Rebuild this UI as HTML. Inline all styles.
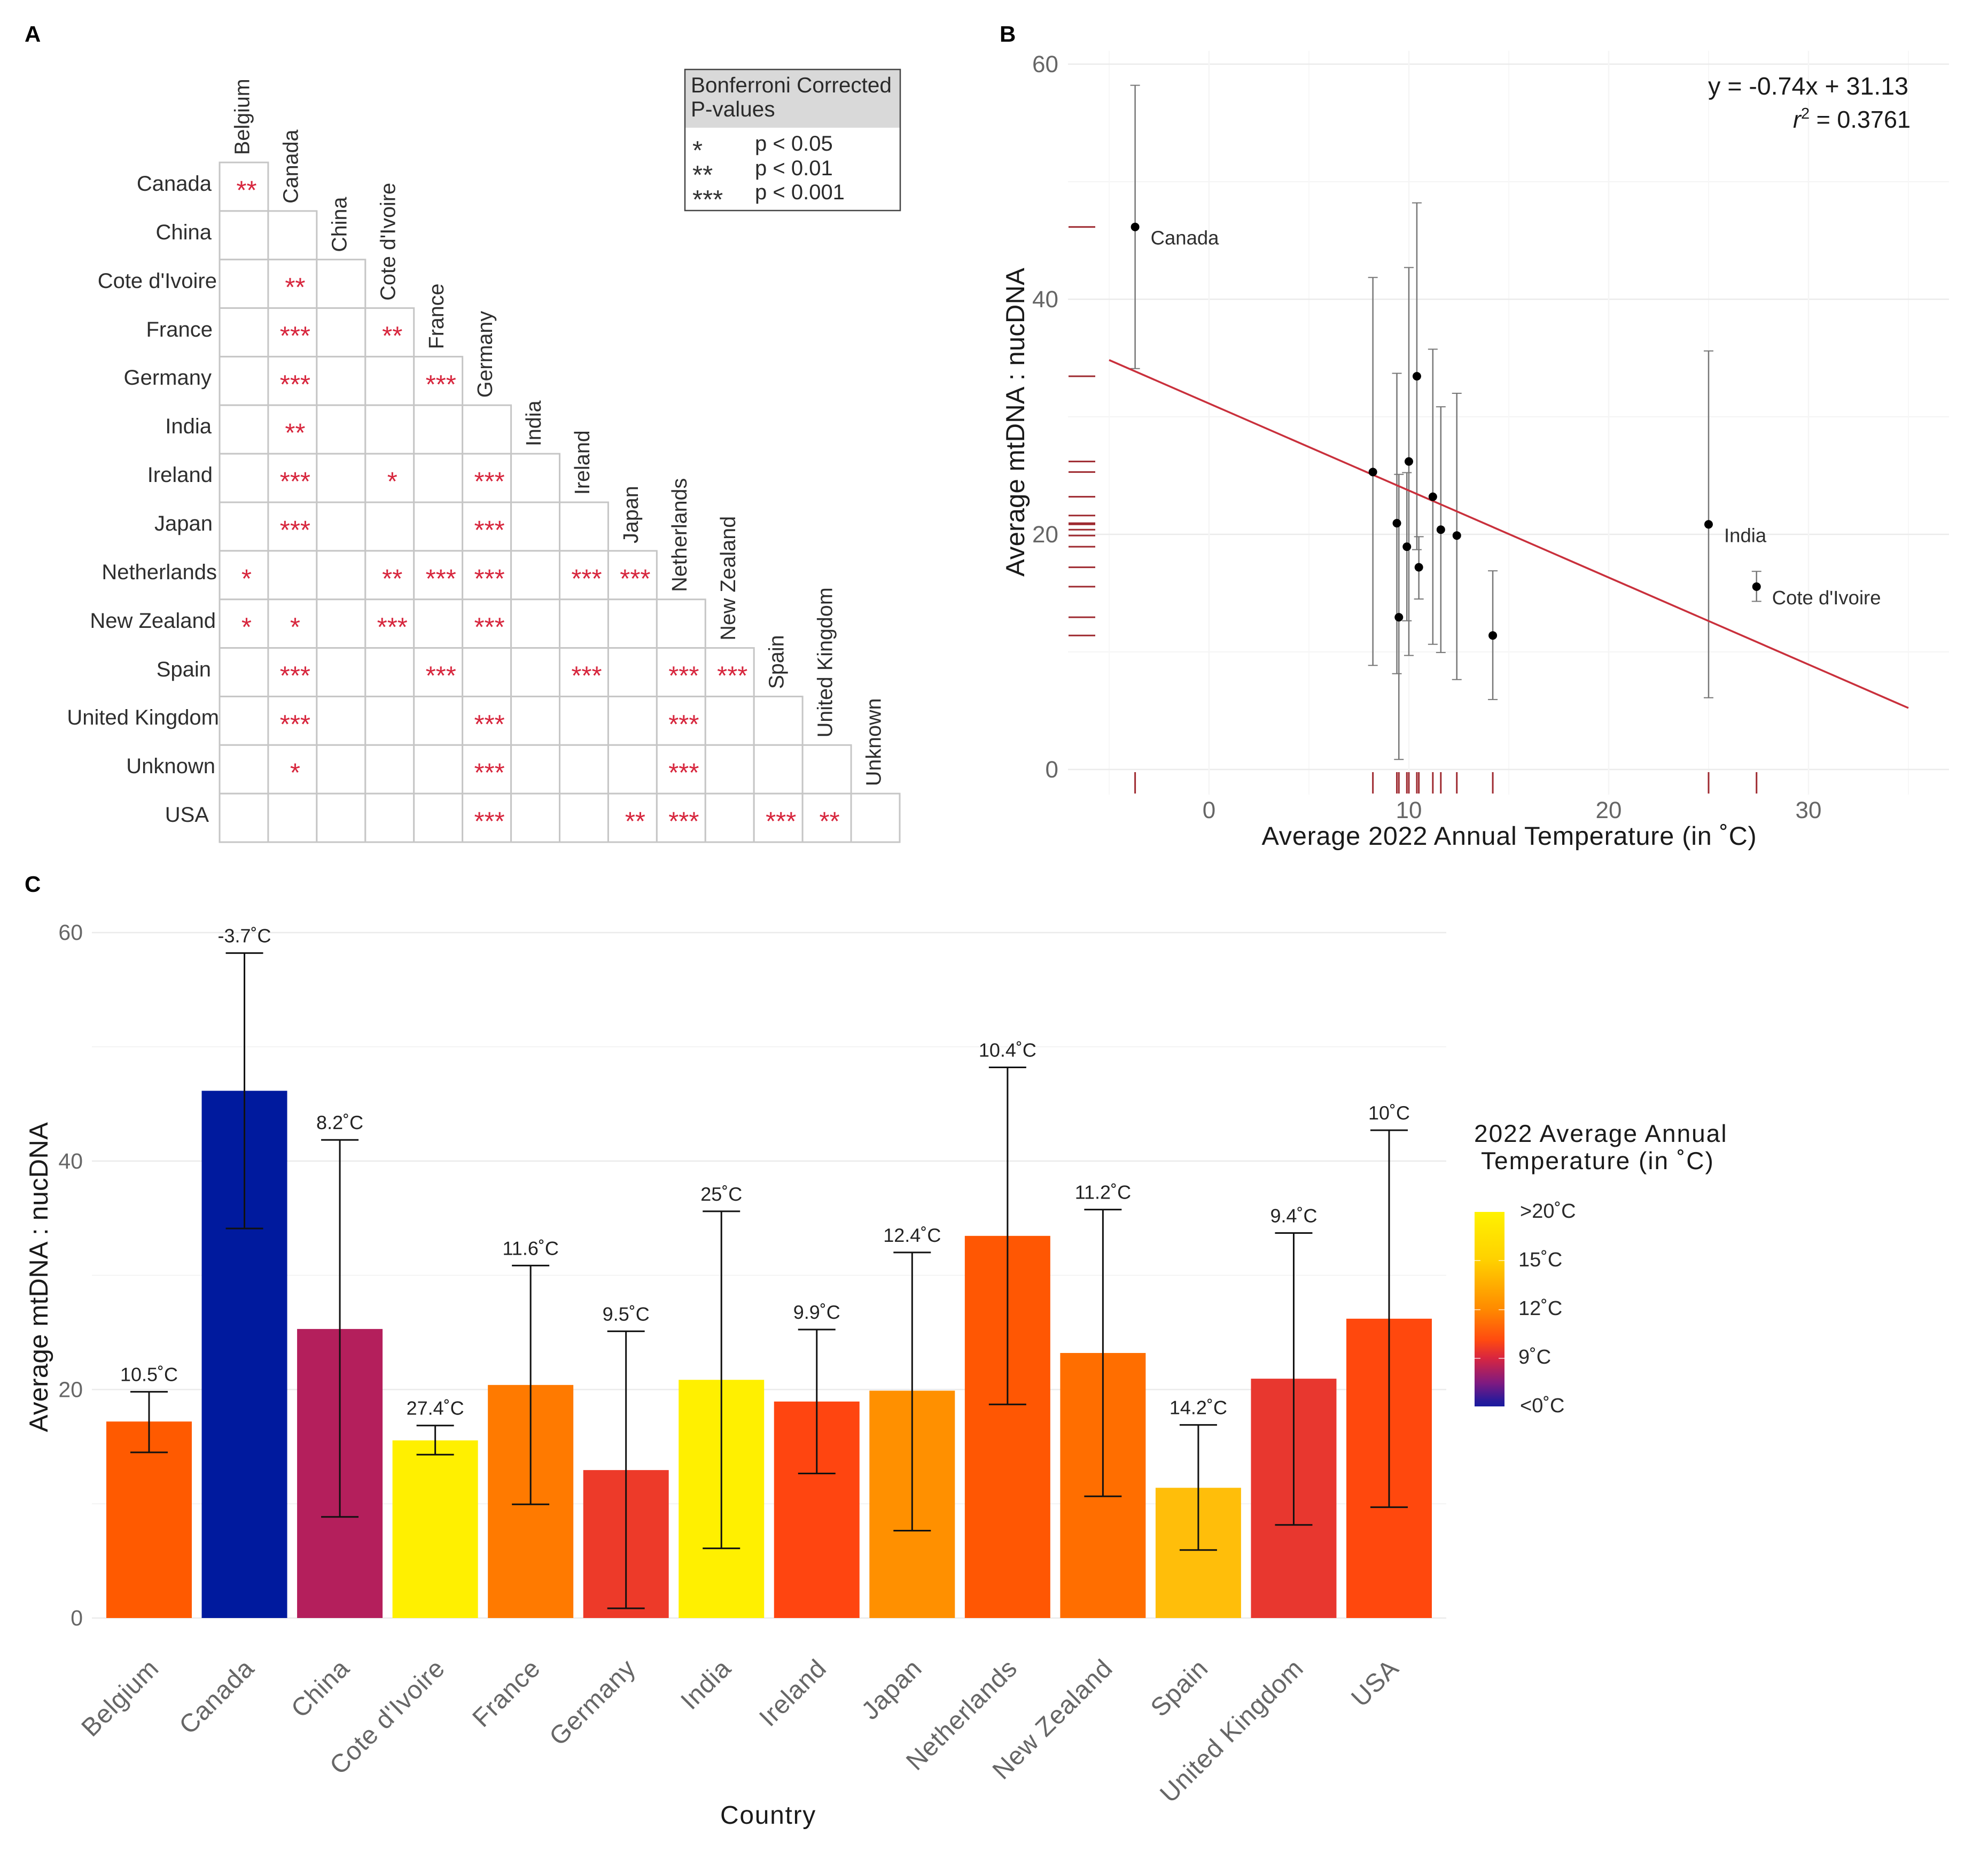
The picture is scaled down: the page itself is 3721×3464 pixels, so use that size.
<!DOCTYPE html>
<html lang="en">
<head>
<meta charset="utf-8">
<title>mtDNA : nucDNA by country and temperature</title>
<style>
html,body{margin:0;padding:0;background:#fff;width:3721px;height:3464px;overflow:hidden}
svg{display:block}
text{font-family:"Liberation Sans",sans-serif;text-rendering:geometricPrecision}
</style>
</head>
<body>
<svg id="fig" xmlns="http://www.w3.org/2000/svg" width="3721" height="3464" viewBox="0 0 3721 3464">
  <defs>
    <linearGradient id="tempGrad" x1="0" y1="0" x2="0" y2="1">
      <stop offset="0" stop-color="#fff200"/>
      <stop offset="0.25" stop-color="#ffd000"/>
      <stop offset="0.5" stop-color="#ff8a00"/>
      <stop offset="0.66" stop-color="#ff4a10"/>
      <stop offset="0.75" stop-color="#d9263f"/>
      <stop offset="0.88" stop-color="#7f1a80"/>
      <stop offset="0.97" stop-color="#2a1a9a"/>
      <stop offset="1" stop-color="#1a1a9e"/>
    </linearGradient>
  </defs>
  <rect width="3721" height="3464" fill="#fff"/>

  <text x="46" y="78" font-size="42" font-weight="700" fill="#000">A</text>
  <text x="1871" y="78" font-size="42" font-weight="700" fill="#000">B</text>
  <text x="46" y="1669" font-size="42" font-weight="700" fill="#000">C</text>

  <g id="panelA"></g>
  <g font-size="40" fill="#2e2e2e" text-anchor="end">
    <text x="396" y="357">Canada</text>
    <text x="396" y="448">China</text>
    <text x="406" y="539">Cote d'Ivoire</text>
    <text x="398" y="630">France</text>
    <text x="396" y="720">Germany</text>
    <text x="396" y="811">India</text>
    <text x="398" y="902">Ireland</text>
    <text x="398" y="993">Japan</text>
    <text x="406" y="1084">Netherlands</text>
    <text x="404" y="1175">New Zealand</text>
    <text x="395" y="1266">Spain</text>
    <text x="410" y="1356">United Kingdom</text>
    <text x="403" y="1447">Unknown</text>
    <text x="391" y="1538">USA</text>
  </g>

  <g>
    <rect x="1282" y="130" width="403" height="264" fill="#fff"/>
    <rect x="1282" y="130" width="403" height="109" fill="#d9d9d9"/>
    <rect x="1282" y="130" width="403" height="264" fill="none" stroke="#444" stroke-width="2.5"/>
    <text x="1293" y="173" font-size="40.5" fill="#2a2a2a">Bonferroni Corrected</text>
    <text x="1293" y="218" font-size="40.5" fill="#2a2a2a">P-values</text>
    <text x="1296" y="298" font-size="49" fill="#333">*</text>
    <text x="1296" y="344" font-size="49" fill="#333">**</text>
    <text x="1296" y="390" font-size="49" fill="#333">***</text>
    <text x="1413" y="282" font-size="40" fill="#2a2a2a">p &lt; 0.05</text>
    <text x="1413" y="328" font-size="40" fill="#2a2a2a">p &lt; 0.01</text>
    <text x="1413" y="373" font-size="40" fill="#2a2a2a">p &lt; 0.001</text>
  </g>

  <g id="panelB"></g>
  <text x="3572" y="177" font-size="46.5" text-anchor="end" fill="#1a1a1a">y = -0.74x + 31.13</text>
  <text x="3576" y="239" font-size="45" text-anchor="end" fill="#1a1a1a"><tspan font-style="italic">r</tspan><tspan dy="-17" font-size="29">2</tspan><tspan dy="17"> = 0.3761</tspan></text>
  <text transform="translate(1917 790) rotate(-90)" text-anchor="middle" font-size="49" letter-spacing="0.2" fill="#1a1a1a">Average mtDNA : nucDNA</text>
  <text x="2825" y="1581" text-anchor="middle" font-size="48.6" letter-spacing="0.75" fill="#1a1a1a">Average 2022 Annual Temperature (in ˚C)</text>

  <g id="panelC"></g>
  <text transform="translate(89 2390) rotate(-90)" text-anchor="middle" font-size="49" letter-spacing="0.3" fill="#1a1a1a">Average mtDNA : nucDNA</text>
  <text x="1438" y="3413" text-anchor="middle" font-size="48" letter-spacing="1.7" fill="#1a1a1a">Country</text>

  <g>
    <text x="2759" y="2137" font-size="46" letter-spacing="2" fill="#1a1a1a">2022 Average Annual</text>
    <text x="2772" y="2188" font-size="46" letter-spacing="2" fill="#1a1a1a">Temperature (in ˚C)</text>
    <rect x="2760" y="2268" width="56" height="364" fill="url(#tempGrad)"/>
    <g stroke="#fff" stroke-opacity="0.6" stroke-width="2">
      <line x1="2760" x2="2771" y1="2359" y2="2359"/>
      <line x1="2805" x2="2816" y1="2359" y2="2359"/>
      <line x1="2760" x2="2771" y1="2451" y2="2451"/>
      <line x1="2805" x2="2816" y1="2451" y2="2451"/>
      <line x1="2760" x2="2771" y1="2542" y2="2542"/>
      <line x1="2805" x2="2816" y1="2542" y2="2542"/>
    </g>
    <g font-size="38" fill="#2a2a2a">
      <text x="2845" y="2279">&gt;20˚C</text>
      <text x="2842" y="2370">15˚C</text>
      <text x="2842" y="2461">12˚C</text>
      <text x="2842" y="2552">9˚C</text>
      <text x="2845" y="2643">&lt;0˚C</text>
    </g>
  </g>
</svg>

<script>
// ---- Matrix data ----
const matrixColumns = ["Belgium","Canada","China","Cote d'Ivoire","France","Germany","India","Ireland","Japan","Netherlands","New Zealand","Spain","United Kingdom","Unknown"];
const matrixRows = ["Canada","China","Cote d'Ivoire","France","Germany","India","Ireland","Japan","Netherlands","New Zealand","Spain","United Kingdom","Unknown","USA"];
const sigLevels = [
  [2],
  [0,0],
  [0,2,0],
  [0,3,0,2],
  [0,3,0,0,3],
  [0,2,0,0,0,0],
  [0,3,0,1,0,3,0],
  [0,3,0,0,0,3,0,0],
  [1,0,0,2,3,3,0,3,3],
  [1,1,0,3,0,3,0,0,0,0],
  [0,3,0,0,3,0,0,3,0,3,3],
  [0,3,0,0,0,3,0,0,0,3,0,0],
  [0,1,0,0,0,3,0,0,0,3,0,0,0],
  [0,0,0,0,0,3,0,0,2,3,0,3,2,0]
];

// ---- Country data ----
const countries = ["Belgium","Canada","China","Cote d'Ivoire","France","Germany","India","Ireland","Japan","Netherlands","New Zealand","Spain","United Kingdom","USA"];
const temps = [10.5,-3.7,8.2,27.4,11.6,9.5,25,9.9,12.4,10.4,11.2,14.2,9.4,10];
const means = [17.2,46.15,25.3,15.55,20.4,12.95,20.85,18.95,19.9,33.45,23.2,11.4,20.95,26.2];
const lowers = [14.5,34.1,8.85,14.3,9.95,0.85,6.1,12.65,7.65,18.7,10.65,5.95,8.15,9.7];
const uppers = [19.8,58.2,41.85,16.85,30.85,25.1,35.6,25.25,32,48.2,35.75,16.9,33.7,42.7];
const extraRugValues = [21.6];

// ---- Scatter axis data ----
const fitSlope = -0.74;
const fitIntercept = 31.13;
const fitDomain = [-5, 35];
const scatterXTicks = [0,10,20,30];
const scatterXMinorTicks = [-5,5,15,25,35];
const scatterYTicks = [0,20,40,60];
const scatterYMinorTicks = [10,30,50];
const scatterLabelled = ["Canada","India","Cote d'Ivoire"];

// ---- Bar axis data ----
const barYTicks = [0,20,40,60];
const barYMinorTicks = [10,30,50];

// ---- Colour ramp (temperature -> fill) ----
const rampTemps = [-3.7,8.2,9.4,9.9,10.5,11.6,12.4,14.2,20];
const rampColors = [[0,26,158],[180,31,92],[232,55,47],[255,69,16],[255,90,0],[255,122,0],[255,144,0],[255,190,10],[255,240,0]];
function tempColor(t){
  if(t<=rampTemps[0]) return 'rgb('+rampColors[0].join(',')+')';
  for(let i=1;i<rampTemps.length;i++){
    if(t<=rampTemps[i]){
      const f=(t-rampTemps[i-1])/(rampTemps[i]-rampTemps[i-1]);
      const c=rampColors[i].map((v,k)=>Math.round(rampColors[i-1][k]+(v-rampColors[i-1][k])*f));
      return 'rgb('+c.join(',')+')';
    }
  }
  return 'rgb('+rampColors[rampColors.length-1].join(',')+')';
}

const NS='http://www.w3.org/2000/svg';
function mk(tag,attrs,parent,content){
  const e=document.createElementNS(NS,tag);
  for(const k in attrs) e.setAttribute(k,attrs[k]);
  if(content!==undefined) e.textContent=content;
  parent.appendChild(e);
  return e;
}
function slug(s){return s.toLowerCase().replace(/[^a-z0-9]+/g,'-').replace(/^-|-$/g,'');}
let el;

// ================= Panel A =================
const gA=document.getElementById('panelA');
const cellW=(1684-411)/14, cellH=(1576-304)/14, gridX=411, gridY=304;
const colX=j=>gridX+j*cellW, rowY=i=>gridY+i*cellH;
sigLevels.forEach((row,i)=>{
  row.forEach((lvl,j)=>{
    el=mk('rect',{x:colX(j),y:rowY(i),width:cellW,height:cellH,fill:'#fff',stroke:'#c6c6c6','stroke-width':3},gA);
    
    
  });
});
sigLevels.forEach((row,i)=>{
  row.forEach((lvl,j)=>{
    if(!lvl) return;
    el=mk('text',{x:colX(j)+cellW/2+5,y:rowY(i)+cellH/2+23,'text-anchor':'middle','font-size':49,fill:'#d7263d'},gA,'*'.repeat(lvl));
    
    
  });
});
matrixColumns.forEach((c,j)=>{
  const cx=colX(j)+cellW/2+10, bottom=rowY(j)-14;
  el=mk('text',{transform:'translate('+cx+' '+bottom+') rotate(-90)','font-size':39.5,fill:'#2e2e2e'},gA,c);
  
  
});

// ================= Panel B =================
const gB=document.getElementById('panelB');
const sx=t=>2263+37.4*t, sy=v=>1440-22*v;
const bL=1999,bR=3648,bT=95,bB=1487;
scatterYMinorTicks.forEach(v=>{
  el=mk('line',{x1:bL,x2:bR,y1:sy(v),y2:sy(v),stroke:'#f4f4f4','stroke-width':2},gB);
  
  
});
scatterXMinorTicks.forEach(t=>{
  el=mk('line',{x1:sx(t),x2:sx(t),y1:bT,y2:bB,stroke:'#f7f7f7','stroke-width':2},gB);
  
  
});
scatterYTicks.forEach(v=>{
  el=mk('line',{x1:bL,x2:bR,y1:sy(v),y2:sy(v),stroke:'#ebebeb','stroke-width':2.5},gB);
  
  
  el=mk('text',{x:1981,y:sy(v)+15,'text-anchor':'end','font-size':44,fill:'#666'},gB,String(v));
  
  
});
scatterXTicks.forEach(t=>{
  el=mk('line',{x1:sx(t),x2:sx(t),y1:bT,y2:bB,stroke:'#f5f5f5','stroke-width':2.5},gB);
  
  
  el=mk('text',{x:sx(t),y:1531,'text-anchor':'middle','font-size':44,fill:'#666'},gB,String(t));
  
  
});
countries.forEach((c,i)=>{
  const x=sx(temps[i]);
  el=mk('line',{x1:x,x2:x,y1:sy(lowers[i]),y2:sy(uppers[i]),stroke:'#777','stroke-width':2.5},gB);
  
  
  el=mk('line',{x1:x-9,x2:x+9,y1:sy(uppers[i]),y2:sy(uppers[i]),stroke:'#777','stroke-width':2},gB);
  
  
  el=mk('line',{x1:x-9,x2:x+9,y1:sy(lowers[i]),y2:sy(lowers[i]),stroke:'#777','stroke-width':2},gB);
  
  
  el=mk('line',{x1:x,x2:x,y1:1445,y2:1485,stroke:'#9e2a30','stroke-width':3},gB);
  
  
  el=mk('line',{x1:2000,x2:2050,y1:sy(means[i]),y2:sy(means[i]),stroke:'#9e2a30','stroke-width':3},gB);
  
  
});
extraRugValues.forEach(v=>{
  el=mk('line',{x1:2000,x2:2050,y1:sy(v),y2:sy(v),stroke:'#9e2a30','stroke-width':3},gB);
  
  
});
el=mk('line',{x1:sx(fitDomain[0]),y1:sy(fitSlope*fitDomain[0]+fitIntercept),x2:sx(fitDomain[1]),y2:sy(fitSlope*fitDomain[1]+fitIntercept),stroke:'#c9303c','stroke-width':3.5},gB);


countries.forEach((c,i)=>{
  el=mk('circle',{cx:sx(temps[i]),cy:sy(means[i]),r:8,fill:'#000'},gB);
  
  
  if(scatterLabelled.indexOf(c)>=0){
    el=mk('text',{x:sx(temps[i])+29,y:sy(means[i])+33,'font-size':36.5,fill:'#2e2e2e'},gB,c);
    
    
  }
});

// ================= Panel C =================
const gC=document.getElementById('panelC');
const barY=v=>3028-21.38*v;
const barStep=(2600-279)/13, barCx=i=>279+i*barStep, barW=160;
const cL=172,cR=2707;
barYMinorTicks.forEach(v=>{
  el=mk('line',{x1:cL,x2:cR,y1:barY(v),y2:barY(v),stroke:'#f4f4f4','stroke-width':2},gC);
  
  
});
barYTicks.forEach(v=>{
  el=mk('line',{x1:cL,x2:cR,y1:barY(v),y2:barY(v),stroke:'#ebebeb','stroke-width':2.5},gC);
  
  
  el=mk('text',{x:155,y:barY(v)+14,'text-anchor':'end','font-size':41,fill:'#666'},gC,String(v));
  
  
});
countries.forEach((c,i)=>{
  const cx=barCx(i);
  el=mk('rect',{x:cx-barW/2,y:barY(means[i]),width:barW,height:barY(0)-barY(means[i]),fill:tempColor(temps[i])},gC);
  
  
});
countries.forEach((c,i)=>{
  const cx=barCx(i);
  el=mk('line',{x1:cx,x2:cx,y1:barY(lowers[i]),y2:barY(uppers[i]),stroke:'#111','stroke-width':3},gC);
  
  
  el=mk('line',{x1:cx-35,x2:cx+35,y1:barY(uppers[i]),y2:barY(uppers[i]),stroke:'#111','stroke-width':3},gC);
  
  
  el=mk('line',{x1:cx-35,x2:cx+35,y1:barY(lowers[i]),y2:barY(lowers[i]),stroke:'#111','stroke-width':3},gC);
  
  
  el=mk('text',{x:cx,y:barY(uppers[i])-20,'text-anchor':'middle','font-size':36,fill:'#222'},gC,temps[i]+'˚C');
  
  
  el=mk('text',{transform:'translate('+(cx+21)+' 3125) rotate(-45)','text-anchor':'end','font-size':48,'letter-spacing':1,fill:'#666'},gC,c);
  
  
});
</script>
</body>
</html>
